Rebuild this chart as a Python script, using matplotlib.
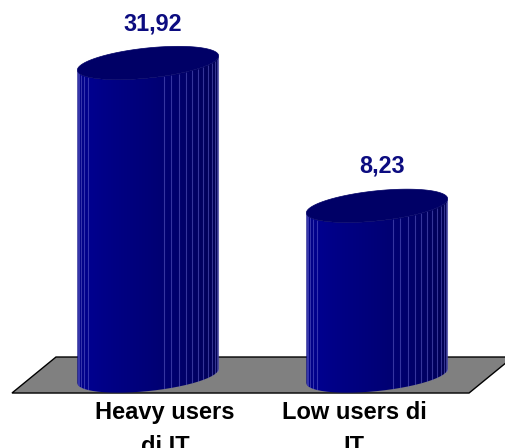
import numpy as np
import matplotlib
matplotlib.use("Agg")
import matplotlib.pyplot as plt
from matplotlib.patches import Polygon

# Chart data
categories = ["Heavy users\ndi IT", "Low users di\nIT"]
values = [31.92, 8.23]
value_labels = ["31,92", "8,23"]

W, H, DPI = 505, 448, 100
fig = plt.figure(figsize=(W / DPI, H / DPI), dpi=DPI)
ax = fig.add_axes([0, 0, 1, 1])
ax.set_axis_off()

x_lim = (-0.6463, 1.5590)
y_lim = (-31.94, 42.37)
floor_value = -20.0

# pixels per data unit along each axis
sx = W / (x_lim[1] - x_lim[0])
sy = H / (y_lim[1] - y_lim[0])

# --- floor (oblique parallelogram) ---
front_left, front_right = -0.594, 1.402
depth_dx, depth_dy = 44 / sx, 36 / sy
fy0 = floor_value - 17 / sy
floor = Polygon([(front_left, fy0), (front_right, fy0),
                 (front_right + depth_dx, fy0 + depth_dy),
                 (front_left + depth_dx, fy0 + depth_dy)],
                closed=True, facecolor="#808080", edgecolor="black",
                linewidth=1.0, zorder=1)
ax.add_patch(floor)

# --- cylinders ---
A, B = 71.0, 15.0            # ellipse semi-axes (px)
tilt = np.deg2rad(6.0)
delta = np.arctan(B * np.tan(tilt) / A)
half_w = np.sqrt((A * np.cos(tilt)) ** 2 + (B * np.sin(tilt)) ** 2) / sx


def ellipse(t, xc, yc):
    dx = A * np.cos(t) * np.cos(tilt) - B * np.sin(t) * np.sin(tilt)
    dy = A * np.cos(t) * np.sin(tilt) + B * np.sin(t) * np.cos(tilt)
    return xc + dx / sx, yc + dy / sy


def shade(u):
    # blue level across the visible side, left to right
    us = [0.0, 0.2, 0.5, 0.8, 1.0]
    bs = [128, 142, 120, 94, 70]
    return np.interp(u, us, bs) / 255.0


n_facets = 28
for i, v in enumerate(values):
    ts = np.linspace(np.pi - delta, 2 * np.pi - delta, n_facets + 1)
    xb, yb = ellipse(ts, i, floor_value)
    xt, yt = ellipse(ts, i, v)

    side = np.column_stack([np.concatenate([xb, xt[::-1]]),
                            np.concatenate([yb, yt[::-1]])])
    side_patch = Polygon(side, closed=True, facecolor="none",
                         edgecolor="none", zorder=2)
    ax.add_patch(side_patch)

    # horizontal shading across the curved side
    cols = 300
    xs = np.linspace(i - half_w, i + half_w, cols)
    u = np.arccos(np.clip(-(xs - i) / half_w, -1, 1)) / np.pi
    img = np.zeros((1, cols, 3))
    img[0, :, 2] = shade(u)
    im = ax.imshow(img, extent=(i - half_w, i + half_w,
                                side[:, 1].min(), side[:, 1].max()),
                   aspect="auto", interpolation="bilinear", zorder=2)
    im.set_clip_path(side_patch)

    # facet edges
    for k in range(1, n_facets):
        uk = k / n_facets
        if uk <= 0.2 or uk >= 0.54:
            ax.plot([xb[k], xt[k]], [yb[k], yt[k]], color="#6a6ad0",
                    alpha=0.5, linewidth=0.8, zorder=3,
                    solid_capstyle="butt")
    tt = np.linspace(0, 2 * np.pi, 200)
    ex, ey = ellipse(tt, i, v)
    ax.add_patch(Polygon(np.column_stack([ex, ey]), closed=True,
                         facecolor="#000066", edgecolor="#000066",
                         linewidth=0.5, zorder=4))

    ax.annotate(value_labels[i], xy=(i, v), xytext=(5 * 0.72, 39.5 * 0.72),
                textcoords="offset points", ha="center", va="center",
                fontsize=16.8, fontweight="bold", color="#0c0c80",
                family="Liberation Sans", zorder=5)

label_dx = [17, -23]
for i, cat in enumerate(categories):
    ax.annotate(cat, xy=(i, floor_value), xytext=(label_dx[i] * 0.72, -25 * 0.72),
                textcoords="offset points", ha="center", va="top",
                multialignment="center", linespacing=1.62,
                fontsize=17, fontweight="bold", color="black",
                family="Liberation Sans", zorder=5)

ax.set_xlim(*x_lim)
ax.set_ylim(*y_lim)

fig.savefig("out.png", dpi=DPI)
